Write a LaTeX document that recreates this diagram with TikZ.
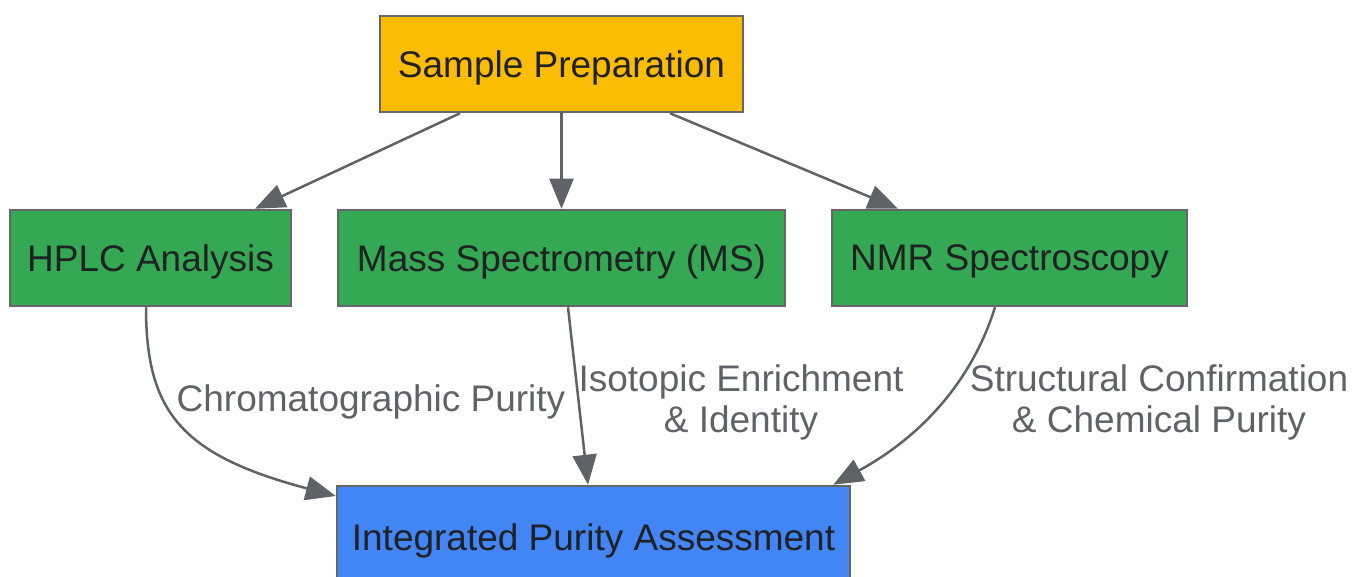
\documentclass[tikz,border=0pt]{standalone}
\usepackage{fontspec}
\setmainfont{Liberation Sans}
\usetikzlibrary{arrows.meta}
\definecolor{cOrange}{HTML}{FBBC04}
\definecolor{cGreen}{HTML}{34A853}
\definecolor{cBlue}{HTML}{4285F4}
\definecolor{cBorder}{HTML}{666666}
\definecolor{cEdge}{HTML}{5F6368}
\definecolor{cText}{HTML}{202124}
\begin{document}
\begin{tikzpicture}[x=1pt,y=-1pt,
  box/.style={draw=cBorder, line width=2.5pt, rectangle, inner sep=0pt,
    minimum height=96pt, text depth=0pt, text=cText, font=\fontsize{37}{44}\selectfont},
  conn/.style={draw=cEdge, line width=2.5pt, -{Triangle[length=30pt,width=24pt]}},
  lbl/.style={text=cEdge, font=\fontsize{37}{41}\selectfont, align=center, inner sep=0pt}]
\useasboundingbox (0,0) rectangle (1352,577);
\node[box, fill=cOrange, minimum width=363pt] (sp) at (561.5,64) {Sample Preparation};
\node[box, fill=cGreen, minimum width=281pt] (hplc) at (150.5,258) {HPLC Analysis};
\node[box, fill=cGreen, minimum width=447pt] (ms) at (561.5,258) {Mass Spectrometry (MS)};
\node[box, fill=cGreen, minimum width=355pt] (nmr) at (1009.5,258) {NMR Spectroscopy};
\node[box, fill=cBlue, minimum width=513pt] (ipa) at (593.5,534) {};
\node[text=cText, font=\fontsize{37}{44}\selectfont, inner sep=0pt] (ipat) at (593.5,541) {Integrated Purity Assessment};
\draw[conn] ([xshift=-101.5pt]sp.south) -- ([xshift=104.5pt]hplc.north);
\draw[conn] (sp.south) -- (ms.north);
\draw[conn] ([xshift=108.5pt]sp.south) -- ([xshift=-111.5pt]nmr.north);
\draw[conn] ([xshift=-4.5pt]hplc.south) .. controls +(0,104) and +(-155,-41) .. ([yshift=38pt]ipa.west);
\draw[conn] ([xshift=6.5pt]ms.south) -- ([xshift=-5.5pt]ipa.north);
\draw[conn] ([xshift=-14.5pt]nmr.south) .. controls +(-20,64) and +(98,-54) .. ([xshift=-18pt]ipa.north east);
\node[lbl] (l1) at (371,402) {Chromatographic Purity};
\node[lbl] (l2) at (741,402) {Isotopic Enrichment\\\& Identity};
\node[lbl] (l3) at (1159,402) {Structural Confirmation\\\& Chemical Purity};
\end{tikzpicture}
\end{document}
